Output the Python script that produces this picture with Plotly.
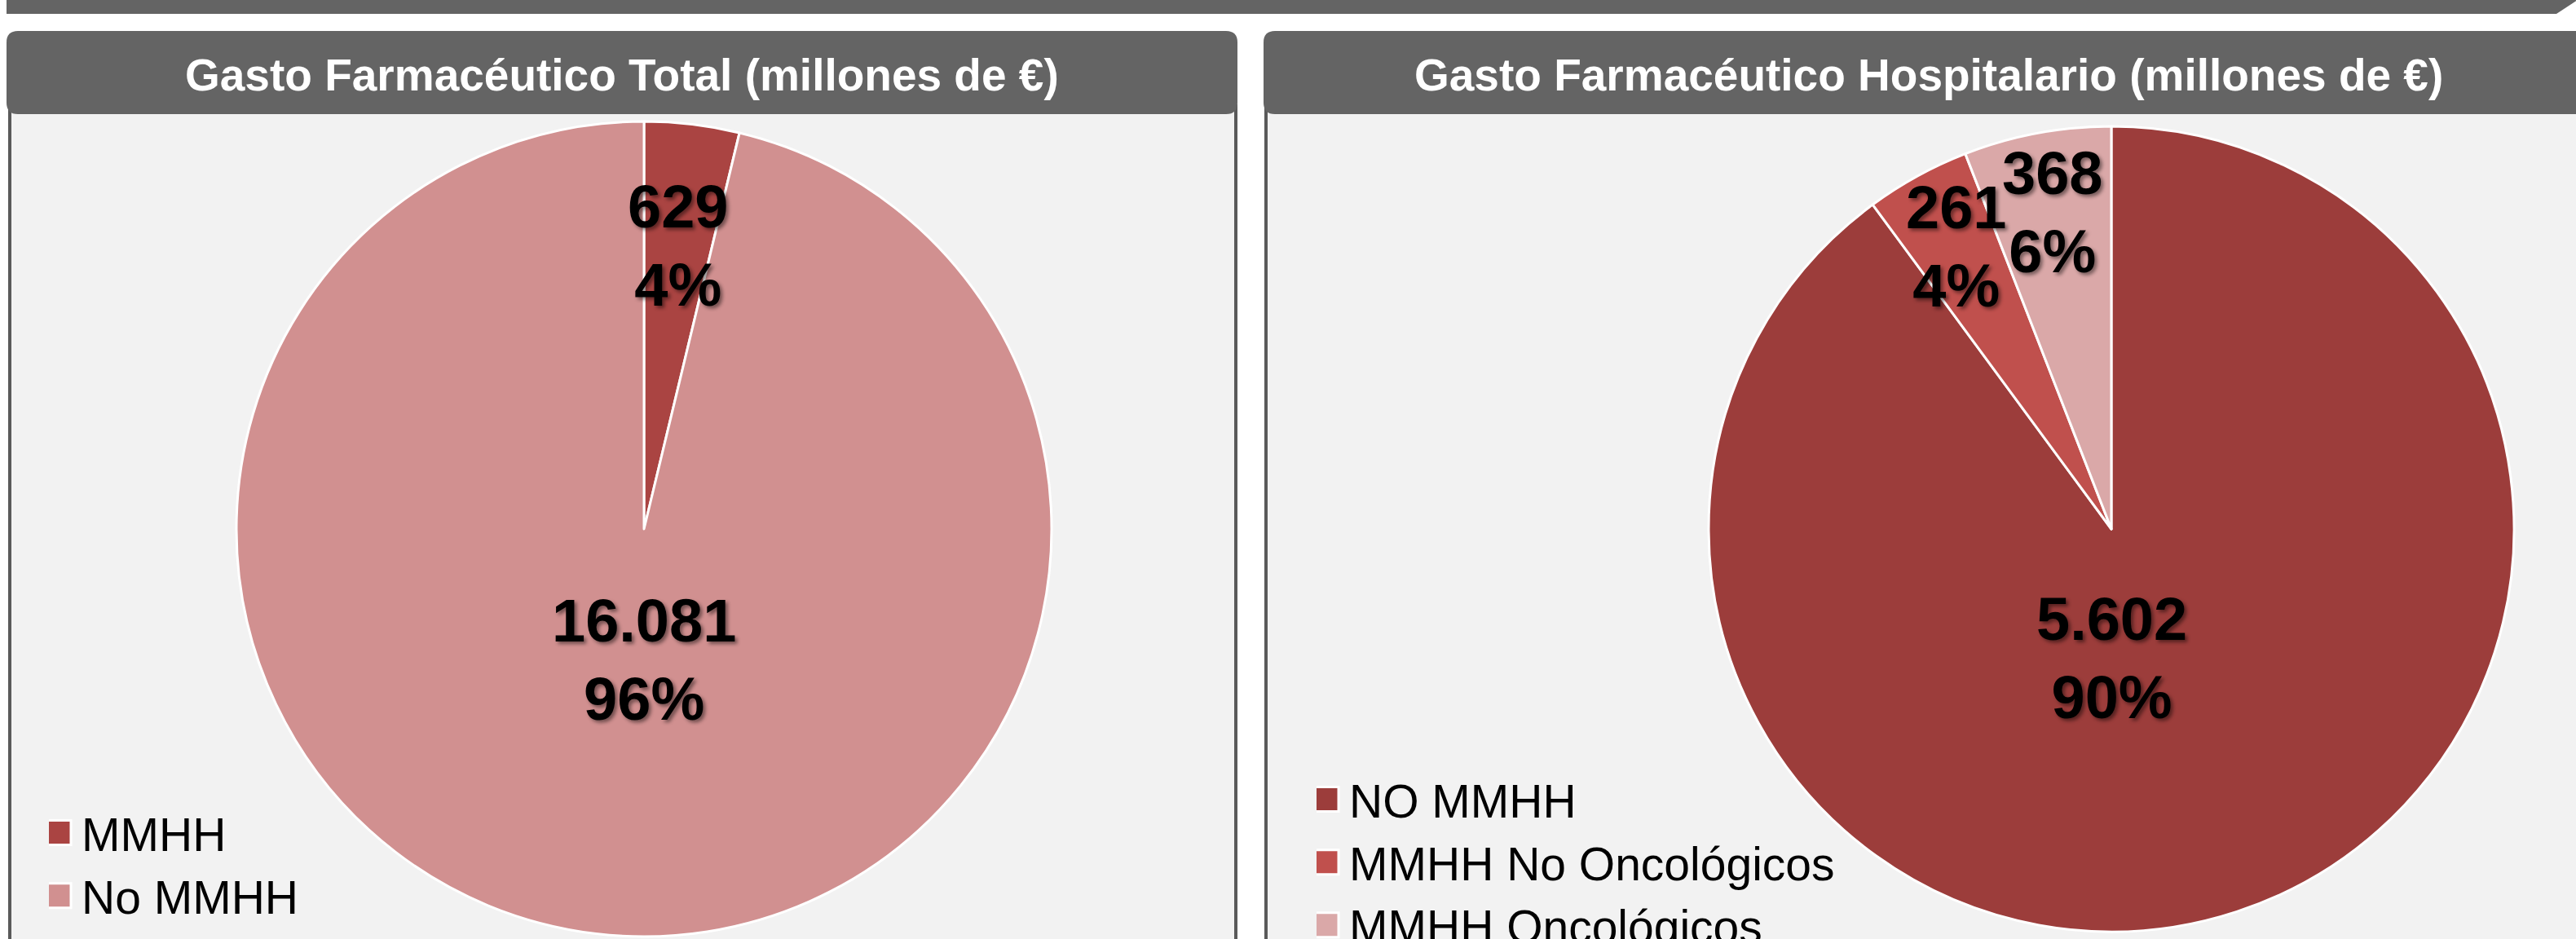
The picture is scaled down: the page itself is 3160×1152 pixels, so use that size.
import math
import plotly.graph_objects as go

W, H = 3160, 1152

# ---- data ----
total_title = "Gasto Farmacéutico Total (millones de €)"
total_labels = ["MMHH", "No MMHH"]
total_values = [629, 16081]
total_colors = ["#AA4442", "#D19090"]

hosp_title = "Gasto Farmacéutico Hospitalario (millones de €)"
hosp_labels = ["NO MMHH", "MMHH No Oncológicos", "MMHH Oncológicos"]
hosp_values = [5602, 261, 368]
hosp_colors = ["#9C3D3B", "#C0504D", "#DAA8A8"]

FONT = "Liberation Sans, Arial, sans-serif"
DARK = "#646464"
PANEL = "#F2F2F2"

# pie geometry (pixels): centre x, centre y, radius
PIE1 = (790, 649, 500)
PIE2 = (2590, 649, 494)


def fx(x):
    return x / W


def fy(y):
    return 1 - y / H


def domain_of(geom):
    cx, cy, r = geom
    return dict(x=[fx(cx - r), fx(cx + r)], y=[fy(cy + r), fy(cy - r)])


def rounded_rect(x0, y0, x1, y1, r):
    X0, X1 = fx(x0), fx(x1)
    Y0, Y1 = fy(y0), fy(y1)
    rx, ry = r / W, r / H
    return (f"M{X0+rx},{Y0} L{X1-rx},{Y0} Q{X1},{Y0} {X1},{Y0-ry} "
            f"L{X1},{Y1+ry} Q{X1},{Y1} {X1-rx},{Y1} L{X0+rx},{Y1} "
            f"Q{X0},{Y1} {X0},{Y1+ry} L{X0},{Y0-ry} Q{X0},{Y0} {X0+rx},{Y0} Z")


def fmt_thousands(v):
    return f"{v:,}".replace(",", ".")


def slice_labels(values, geom, font, rf_small, rf_big=0.32):
    """Labels along each slice's bisector (clockwise from 12 o'clock);
    the dominant slice's label sits below the centre."""
    cx, cy, r = geom
    total = sum(values)
    out = []
    cum = 0
    for v in values:
        frac = v / total
        mid = (cum + frac / 2) * 2 * math.pi
        cum += frac
        if frac > 0.5:
            mid, rf = math.pi, rf_big
        else:
            rf = rf_small
        x = cx + rf * r * math.sin(mid)
        y = cy - rf * r * math.cos(mid)
        out.append(dict(
            text=f"<b>{fmt_thousands(v)}<br>{round(frac * 100)}%</b>",
            xref="paper", yref="paper", x=fx(x), y=fy(y),
            xanchor="center", yanchor="middle", showarrow=False,
            font=font))
    return out


fig = go.Figure()

fig.add_trace(go.Pie(
    labels=total_labels, values=total_values,
    marker=dict(colors=total_colors, line=dict(color="white", width=3)),
    sort=False, direction="clockwise", rotation=0,
    textinfo="none", hoverinfo="label+value+percent",
    domain=domain_of(PIE1),
    legend="legend", showlegend=True,
))

fig.add_trace(go.Pie(
    labels=hosp_labels, values=hosp_values,
    marker=dict(colors=hosp_colors, line=dict(color="white", width=3)),
    sort=False, direction="clockwise", rotation=0,
    textinfo="none", hoverinfo="label+value+percent",
    domain=domain_of(PIE2),
    legend="legend2", showlegend=True,
))

shapes = [
    # top bar
    dict(type="path", xref="paper", yref="paper", layer="below",
         path=f"M{fx(8)},{fy(0)} L{fx(3162)},{fy(0)} L{fx(3136)},{fy(17)} L{fx(8)},{fy(17)} Z",
         fillcolor=DARK, line=dict(width=0)),
    # left panel body
    dict(type="rect", xref="paper", yref="paper", layer="below",
         x0=fx(12), x1=fx(1516), y0=fy(1170), y1=fy(130),
         fillcolor=PANEL, line=dict(color="#5A5A5A", width=4)),
    # right panel body
    dict(type="rect", xref="paper", yref="paper", layer="below",
         x0=fx(1553), x1=fx(3190), y0=fy(1170), y1=fy(130),
         fillcolor=PANEL, line=dict(color="#5A5A5A", width=4)),
    # headers
    dict(type="path", xref="paper", yref="paper", layer="below",
         path=rounded_rect(8, 38, 1518, 140, 14), fillcolor=DARK, line=dict(width=0)),
    dict(type="path", xref="paper", yref="paper", layer="below",
         path=rounded_rect(1550, 38, 3200, 140, 14), fillcolor=DARK, line=dict(width=0)),
]

title_font = dict(family=FONT, size=55, color="white")
annotations = [
    dict(text=f"<b>{total_title}</b>", xref="paper", yref="paper",
         x=fx(763), y=fy(92), xanchor="center", yanchor="middle", showarrow=False,
         font=title_font),
    dict(text=f"<b>{hosp_title}</b>", xref="paper", yref="paper",
         x=fx(2366), y=fy(92), xanchor="center", yanchor="middle", showarrow=False,
         font=title_font),
]

label_font = dict(family=FONT, size=74, color="black",
                  shadow="3px 3px 4px rgba(0,0,0,0.45)")
annotations += slice_labels(total_values, PIE1, label_font, rf_small=0.70)
annotations += slice_labels(hosp_values, PIE2, label_font, rf_small=0.80)

legend_font = dict(family=FONT, size=57, color="black")

fig.update_layout(
    width=W, height=H,
    margin=dict(l=0, r=0, t=0, b=0, autoexpand=False),
    paper_bgcolor="white", plot_bgcolor="white",
    separators=",.",
    shapes=shapes, annotations=annotations,
    legend=dict(x=fx(60), y=fy(978), xanchor="left", yanchor="top",
                bgcolor="rgba(0,0,0,0)", font=legend_font, tracegroupgap=0),
    legend2=dict(x=fx(1615), y=fy(937), xanchor="left", yanchor="top",
                 bgcolor="rgba(0,0,0,0)", font=legend_font, tracegroupgap=0),
)

post = """
document.body.style.margin = '0';
var gd = document.getElementById('{plot_id}');
function fixLegend() {
  gd.querySelectorAll('path.legendpie').forEach(function(p) {
    p.setAttribute('d', 'M7,15H-23V-15H7Z');
  });
}
fixLegend();
gd.on('plotly_afterplot', fixLegend);
"""

fig.write_html("out.html", post_script=post, config={"displayModeBar": False})
